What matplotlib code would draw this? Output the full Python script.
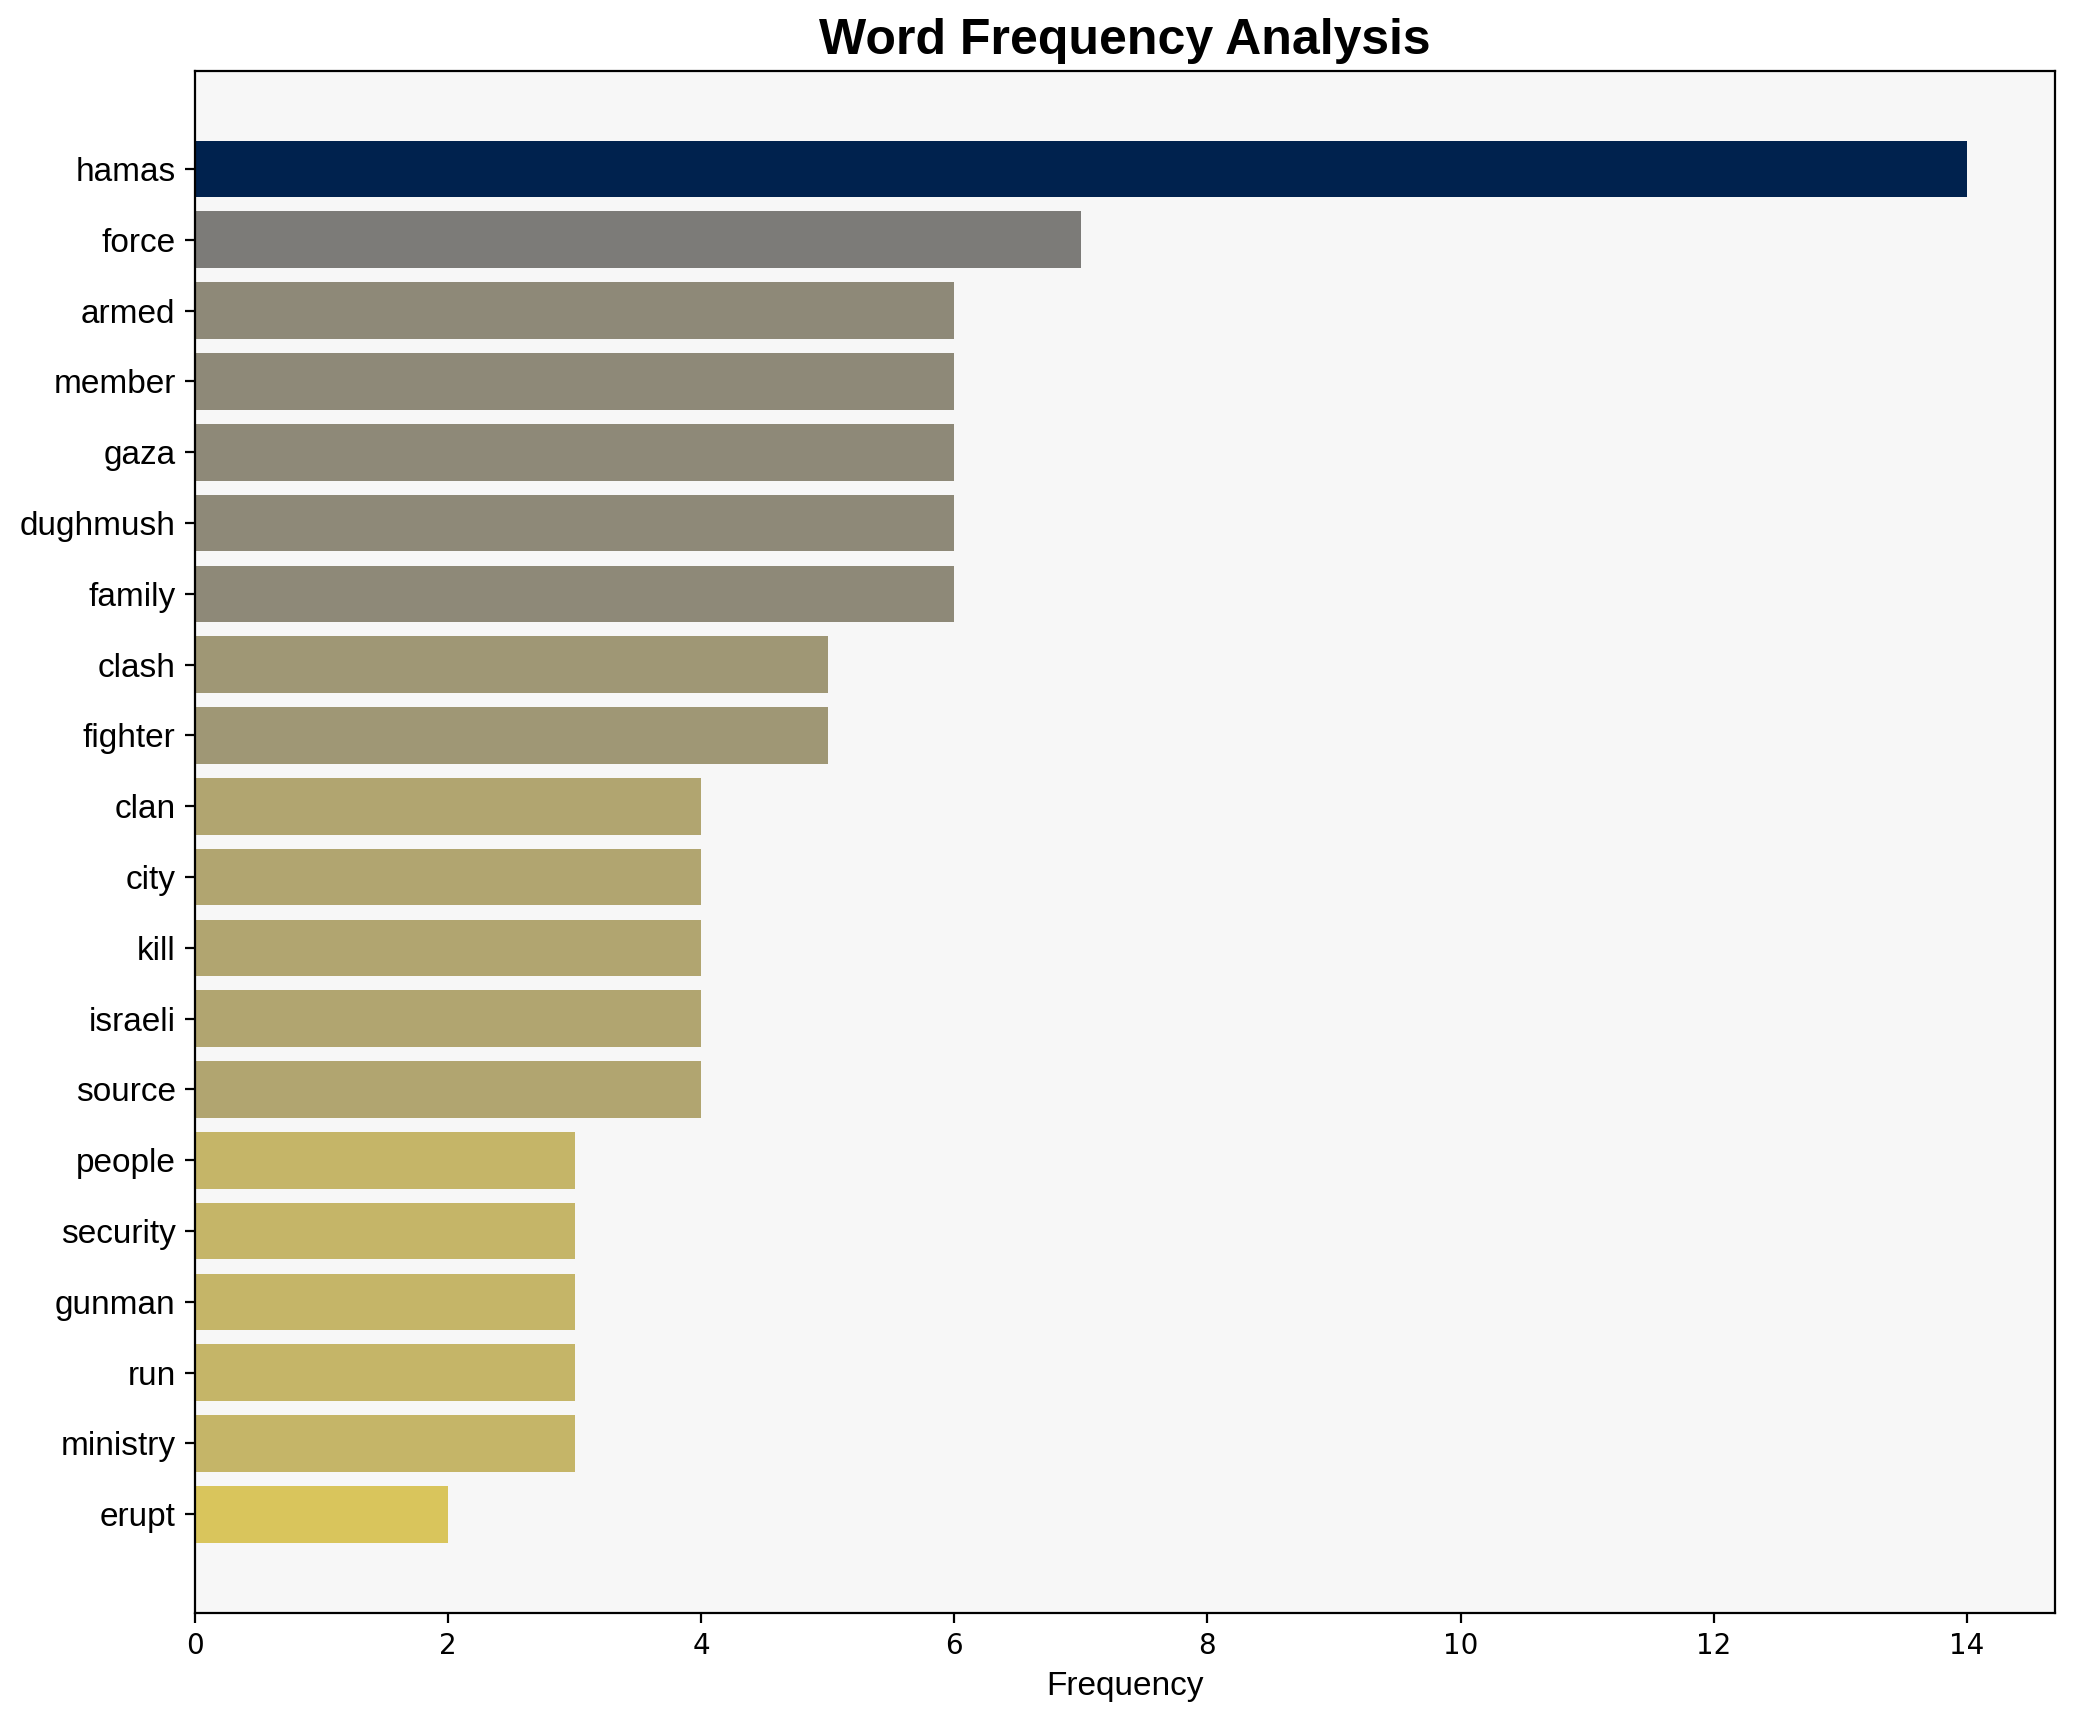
import matplotlib
matplotlib.use("Agg")
import matplotlib.pyplot as plt
import numpy as np

words = ["hamas", "force", "armed", "member", "gaza", "dughmush", "family",
         "clash", "fighter", "clan", "city", "kill", "israeli", "source",
         "people", "security", "gunman", "run", "ministry", "erupt"]
counts = [14, 7, 6, 6, 6, 6, 6, 5, 5, 4, 4, 4, 4, 4, 3, 3, 3, 3, 3, 2]

fig = plt.figure(figsize=(2075 / 200, 1722 / 200), dpi=200)
ax = fig.add_axes([0.094, 0.0635, 0.8965, 0.8955])
ax.set_facecolor("#f7f7f7")

vals = np.array(counts, dtype=float)
colors = plt.cm.cividis_r(vals / vals.max())
y = np.arange(len(words))
ax.barh(y, vals, color=colors, height=0.8)
ax.set_yticks(y)
ax.set_yticklabels(words, fontsize=12, family="Liberation Sans")
ax.invert_yaxis()
ax.tick_params(axis="x", labelsize=10)
ax.set_xlabel("Frequency", fontsize=12, family="Liberation Sans")
ax.set_title("Word Frequency Analysis", fontsize=18, fontweight="bold",
             family="Liberation Sans")

fig.savefig("out.png", dpi=200)
